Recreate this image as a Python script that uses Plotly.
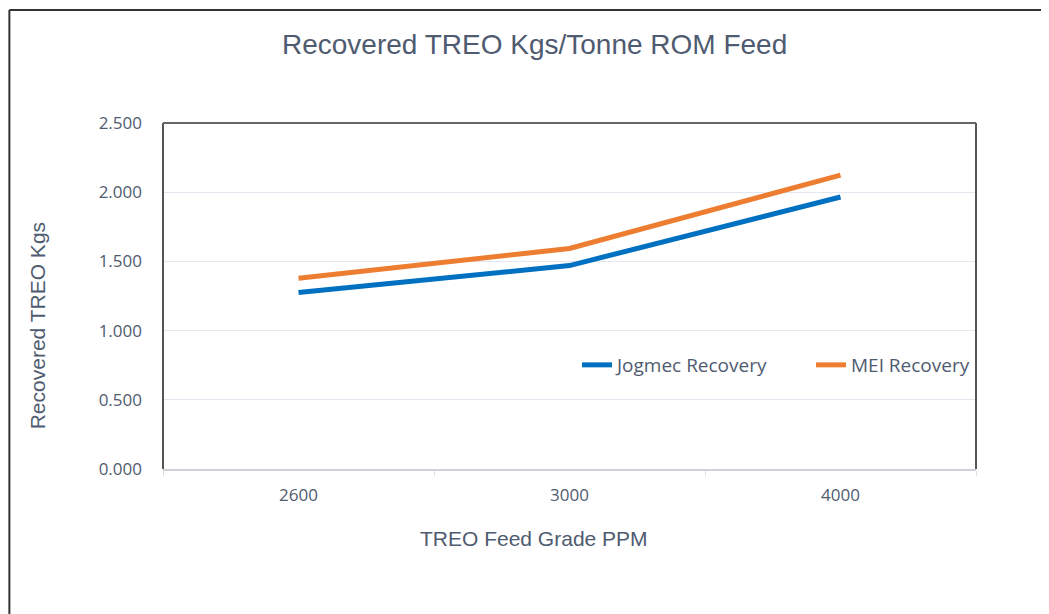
import plotly.graph_objects as go

categories = ["2600", "3000", "4000"]
jogmec = [1.275, 1.470, 1.965]
mei = [1.378, 1.593, 2.123]
series_names = ["Jogmec Recovery", "MEI Recovery"]
title_text = "Recovered TREO Kgs/Tonne ROM Feed"
x_title = "TREO Feed Grade PPM"
y_title = "Recovered TREO Kgs"

W, H = 1049, 614
OFF = 8  # page body margin offset
L, R, T, B = 163 - OFF, 978 - OFF, 123 - OFF, 469 - OFF
TXT = "#4f5b70"

fig = go.Figure()
fig.add_trace(go.Scatter(x=categories, y=jogmec, mode="lines", name=series_names[0],
                         line=dict(color="#0070C0", width=5)))
fig.add_trace(go.Scatter(x=categories, y=mei, mode="lines", name=series_names[1],
                         line=dict(color="#ED7D31", width=5)))

def px_x(p):
    return (p - OFF - L) / (R - L)

def px_y(p):
    return (B - (p - OFF)) / (B - T)

shapes = [
    dict(type="line", xref="paper", yref="paper", x0=0, x1=0, y0=0, y1=1,
         line=dict(color="#555555", width=2), layer="above"),
    dict(type="line", xref="paper", yref="paper", x0=0, x1=1, y0=1, y1=1,
         line=dict(color="#666666", width=2), layer="above"),
    dict(type="line", xref="paper", yref="paper", x0=1, x1=1, y0=0, y1=1,
         line=dict(color="#555555", width=2), layer="above"),
    dict(type="line", xref="paper", yref="paper", x0=px_x(9), x1=px_x(9), y0=px_y(640), y1=px_y(10),
         line=dict(color="#333333", width=2), layer="above"),
    dict(type="line", xref="paper", yref="paper", x0=px_x(9), x1=px_x(1070), y0=px_y(10), y1=px_y(10),
         line=dict(color="#333333", width=2), layer="above"),
]

annotations = [
    dict(text=title_text, xref="paper", yref="paper", x=px_x(535), y=px_y(45),
         showarrow=False, xanchor="center", yanchor="middle",
         font=dict(family="Liberation Sans, Arial", size=28, color=TXT)),
    dict(text=x_title, xref="paper", yref="paper", x=px_x(535), y=px_y(538),
         showarrow=False, xanchor="center", yanchor="middle",
         font=dict(family="Liberation Sans, Arial", size=21, color=TXT)),
    dict(text=y_title, xref="paper", yref="paper", x=px_x(37), y=px_y(326),
         showarrow=False, xanchor="center", yanchor="middle", textangle=-90,
         font=dict(family="Liberation Sans, Arial", size=21, color=TXT)),
]

fig.update_layout(
    width=W, height=H,
    margin=dict(l=L, r=W - R, t=T, b=H - B),
    paper_bgcolor="white", plot_bgcolor="white",
    showlegend=True,
    legend=dict(orientation="h", x=px_x(578), y=px_y(365), xanchor="left", yanchor="middle",
                font=dict(family="Open Sans", size=19, color=TXT),
                bgcolor="rgba(0,0,0,0)", entrywidth=189, entrywidthmode="pixels"),
    shapes=shapes,
    annotations=annotations,
)
fig.update_xaxes(type="category", range=[-0.5, 2.5], showgrid=False,
                 showline=True, linecolor="#d0d0d8", linewidth=2,
                 ticks="outside", tickson="boundaries", ticklen=5, tickcolor="#dde0e8",
                 tickfont=dict(family="Open Sans", size=17, color=TXT),
                 ticklabelstandoff=10, zeroline=False)
fig.update_yaxes(range=[0, 2.5], dtick=0.5, tickformat=".3f",
                 showgrid=True, gridcolor="#e4e6f0", gridwidth=1,
                 showline=False, zeroline=False, ticks="",
                 tickfont=dict(family="Open Sans", size=17, color=TXT),
                 ticklabelstandoff=20)

fig.write_html("out.html")
